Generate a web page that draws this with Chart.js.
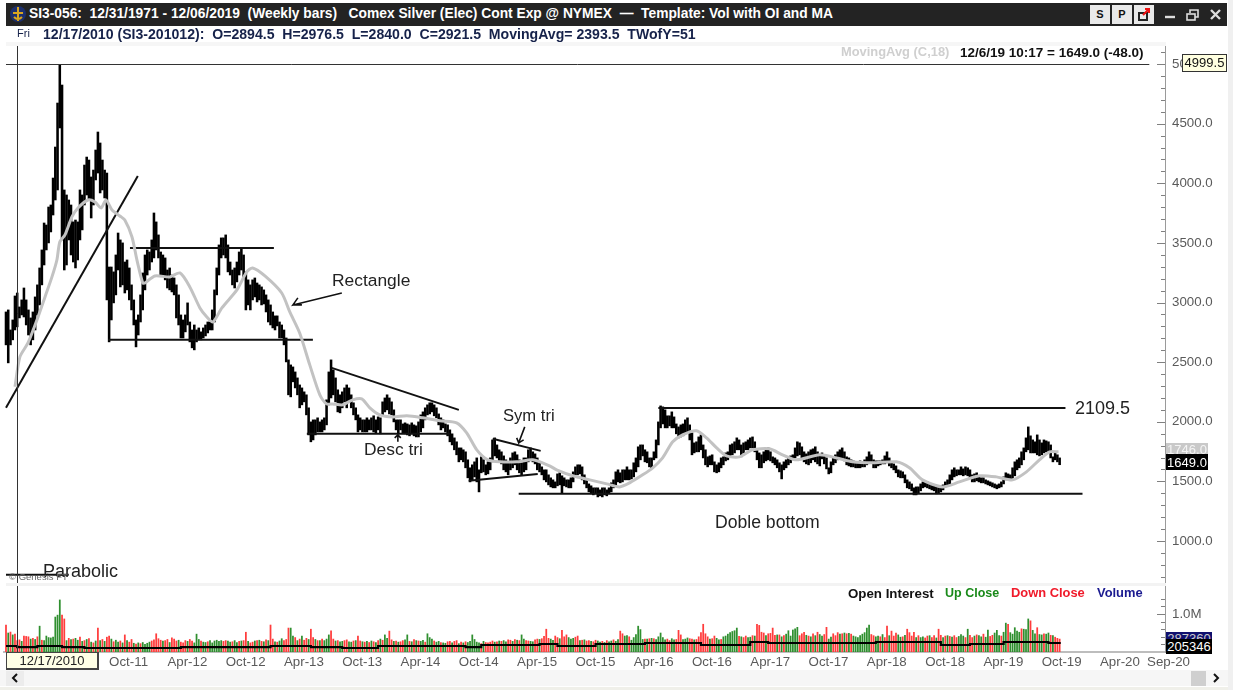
<!DOCTYPE html>
<html><head><meta charset="utf-8">
<script src="https://cdn.jsdelivr.net/npm/chart.js@4/dist/chart.umd.min.js"></script>
<style>
html,body{margin:0;padding:0;background:#fff;overflow:hidden}
#stage{position:relative;width:1233px;height:690px;background:#fff;font-family:"Liberation Sans",Arial,sans-serif;overflow:hidden;filter:blur(0.35px)}
canvas{position:absolute;left:0}
.t{position:absolute;white-space:pre;line-height:1}
.band{position:absolute}
.flag{position:absolute;box-sizing:border-box;text-align:center;font-size:13px;white-space:pre;overflow:hidden}
.btn{position:absolute;top:5px;width:20px;height:19px;background:#e9e9e9;color:#111;font:bold 11px "Liberation Sans";text-align:center;line-height:19px}
</style></head><body>
<div id="stage">
<canvas id="priceChart" width="1233" height="585" style="top:0"></canvas>
<canvas id="volumeChart" width="1233" height="105" style="top:585px"></canvas>

<div class="band" style="left:6px;top:3px;width:1221px;height:23px;background:#232323"></div>
<div class="band" style="left:1228px;top:0;width:5px;height:690px;background:#f0f0f0"></div>
<div class="band" style="left:6px;top:42px;width:1160px;height:4px;background:#f6f6f6"></div>
<div class="band" style="left:6px;top:583px;width:1160px;height:3px;background:#f3f3f3"></div>
<div class="band" style="left:0;top:670px;width:1228px;height:16px;background:#f6f6f6"></div>
<div class="band" style="left:0;top:687px;width:1228px;height:3px;background:#f0f0ea"></div>
<div class="band" style="left:6px;top:671px;width:18px;height:15px;background:#ececec"></div>
<div class="band" style="left:1191px;top:671px;width:15px;height:15px;background:#cfcfcf"></div>
<svg style="position:absolute;left:9px;top:4px" width="18" height="20"><circle cx="9" cy="10" r="8" fill="#1c2f6e"/><path d="M9 3v14M4 9h10M5 13q4 4 8 0" stroke="#d9a520" stroke-width="2" fill="none"/></svg>
<div class="t" style="left:29px;top:7px;color:#fff;font-weight:bold;font-size:13.8px">SI3-056:  12/31/1971 - 12/06/2019  (Weekly bars)   Comex Silver (Elec) Cont Exp @ NYMEX  —  Template: Vol with OI and MA</div>
<div class="t" style="left:17px;top:28px;color:#16224a;font-size:11px">Fri</div>
<div class="t" style="left:43px;top:27px;color:#16224a;font-weight:bold;font-size:14.1px">12/17/2010 (SI3-201012):  O=2894.5  H=2976.5  L=2840.0  C=2921.5  MovingAvg= 2393.5  TWofY=51</div>
<div class="btn" style="left:1090px">S</div><div class="btn" style="left:1112px">P</div><div class="btn" style="left:1134px"></div>
<svg style="position:absolute;left:1134px;top:5px" width="20" height="19"><rect x="5" y="8" width="8" height="7" fill="none" stroke="#222" stroke-width="2"/><path d="M9 10l6-6M11 4h4v4" stroke="#e11" stroke-width="2" fill="none"/></svg>
<svg style="position:absolute;left:1160px;top:5px" width="66" height="19"><path d="M5 12h10" stroke="#ddd" stroke-width="2.4"/><rect x="27" y="9" width="8" height="6" fill="none" stroke="#ddd" stroke-width="1.6"/><path d="M30 8V5h8v7h-3" fill="none" stroke="#ddd" stroke-width="1.6"/><path d="M51 5l9 9M60 5l-9 9" stroke="#ddd" stroke-width="2.4"/></svg>

<div class="t" style="left:841px;top:46px;color:#cfcfcf;font-weight:bold;font-size:12.9px">MovingAvg (C,18)</div>
<div class="t" style="left:960px;top:46px;color:#111;font-weight:bold;font-size:13.5px">12/6/19 10:17 = 1649.0 (-48.0)</div>

<div class="t" style="left:332px;top:272px;color:#222;font-size:17.4px">Rectangle</div>
<div class="t" style="left:364px;top:441px;color:#222;font-size:17.4px">Desc tri</div>
<div class="t" style="left:503px;top:408px;color:#222;font-size:16.6px">Sym tri</div>
<div class="t" style="left:715px;top:514px;color:#222;font-size:17.6px">Doble bottom</div>
<div class="t" style="left:1075px;top:399px;color:#222;font-size:18px">2109.5</div>
<div class="t" style="left:43px;top:562px;color:#222;font-size:18px">Parabolic</div>
<div class="t" style="left:9px;top:572px;color:#666;font-size:9.5px">© Genesis FT</div>

<div class="t" style="left:848px;top:587px;color:#111;font-weight:bold;font-size:13.3px">Open Interest</div>
<div class="t" style="left:945px;top:587px;color:#1a8a1a;font-weight:bold;font-size:12.5px">Up Close</div>
<div class="t" style="left:1011px;top:587px;color:#f01a2a;font-weight:bold;font-size:12.9px">Down Close</div>
<div class="t" style="left:1097px;top:587px;color:#1a1a90;font-weight:bold;font-size:12.9px">Volume</div>

<div class="flag" style="left:1182px;top:54px;width:45px;height:18px;background:#ffffe0;border:1px solid #333;color:#111;line-height:16px">4999.5</div>
<div class="flag" style="left:1166px;top:443px;width:42px;height:12px;background:#c9c9c9;color:#f4f4f4;line-height:13px">1746.0</div>
<div class="flag" style="left:1166px;top:454px;width:42px;height:16px;background:#000;color:#fff;line-height:17px">1649.0</div>
<div class="flag" style="left:1166px;top:632px;width:46px;height:8px;background:#10106e;color:#ccc;line-height:13px">287360</div>
<div class="flag" style="left:1166px;top:639px;width:46px;height:15px;background:#000;color:#fff;line-height:16px">205346</div>
<div class="flag" style="left:6px;top:652px;width:93px;height:18px;background:#ffffe6;border:1px solid #444;border-width:1px 2px 2px 1px;color:#222;line-height:15px">12/17/2010</div>
<svg style="position:absolute;left:10px;top:672px" width="10" height="12"><path d="M7 2L3 6l4 4" fill="none" stroke="#111" stroke-width="2"/></svg>
<svg style="position:absolute;left:1211px;top:672px" width="10" height="12"><path d="M3 2l4 4-4 4" fill="none" stroke="#111" stroke-width="2"/></svg>
</div>
<script>
const weekHigh=[
2921,2938,2770,2854,3055,3080,2963,3022,3122,3022,
2938,2871,2921,3047,3148,3290,3441,3667,3650,3801,
3818,4044,4304,4673,4992,4824,3944,3902,3860,3818,
3676,3692,3676,3944,3902,4153,4220,4195,4053,4111,
4279,4430,4338,4195,4111,4086,3298,3298,3257,3399,
3583,3525,3500,3340,3357,3290,3148,3022,2854,2896,
3064,3248,3399,3441,3424,3525,3751,3676,3567,3424,
3399,3374,3273,3290,3231,3206,3148,3064,2896,2854,
2896,2997,2837,2770,2812,2770,2787,2754,2787,2812,
2837,2837,2938,3106,3290,3483,3542,3542,3567,3483,
3340,3273,3290,3340,3424,3458,3399,3257,3190,3148,
3190,3206,3164,3148,3131,3106,3064,3022,2980,2921,
2888,2888,2837,2812,2770,2703,2519,2477,2460,2418,
2368,2309,2284,2251,2226,2117,1999,2016,2016,2033,
1999,2016,2033,2184,2418,2519,2435,2368,2268,2226,
2251,2284,2309,2284,2226,2159,2117,2058,2033,2016,
2016,2033,2016,2033,2050,2016,2041,2033,2167,2200,
2226,2200,2167,2100,2016,2016,2016,1982,1991,1982,
1974,1991,1974,1966,1999,2058,2083,2117,2142,2159,
2159,2142,2117,2066,2033,2016,1982,1974,1932,1899,
1865,1832,1781,1781,1765,1748,1681,1614,1639,1664,
1697,1597,1706,1681,1639,1664,1697,1848,1865,1806,
1765,1748,1714,1681,1664,1697,1739,1748,1723,1681,
1656,1697,1697,1765,1781,1748,1731,1697,1664,1622,
1597,1597,1555,1530,1513,1496,1563,1572,1547,1530,
1513,1513,1530,1580,1622,1639,1639,1622,1555,1513,
1479,1463,1446,1446,1446,1429,1446,1446,1429,1446,
1488,1513,1580,1597,1572,1597,1597,1622,1597,1597,
1656,1697,1790,1806,1806,1765,1748,1697,1697,1748,
1848,1999,2133,2125,2100,2050,2050,2083,2041,1982,
1957,1974,1982,2016,2033,1974,1907,1823,1832,1873,
1890,1806,1765,1706,1714,1723,1664,1639,1656,1697,
1706,1739,1748,1806,1815,1832,1865,1848,1806,1823,
1832,1848,1865,1873,1832,1765,1739,1723,1748,1765,
1781,1748,1706,1697,1681,1656,1639,1664,1681,1706,
1714,1723,1781,1832,1823,1790,1748,1731,1748,1765,
1773,1790,1748,1723,1739,1714,1697,1614,1664,1697,
1723,1748,1765,1781,1748,1706,1697,1681,1672,1664,
1664,1672,1664,1681,1706,1748,1723,1681,1672,1672,
1672,1681,1714,1748,1697,1656,1647,1630,1597,1589,
1580,1555,1513,1496,1479,1446,1454,1454,1479,1496,
1496,1496,1479,1471,1463,1454,1454,1463,1471,1496,
1513,1555,1597,1614,1597,1597,1622,1605,1622,1614,
1597,1555,1563,1572,1547,1530,1530,1513,1505,1496,
1488,1479,1471,1479,1496,1538,1572,1563,1555,1614,
1664,1681,1697,1748,1781,1865,1957,1882,1848,1832,
1890,1848,1823,1848,1840,1832,1806,1706,1748,1723,1697];
const weekLow=[
2645,2494,2645,2687,2770,2796,2871,2896,2879,2812,
2728,2645,2687,2770,2896,2980,3148,3315,3441,3500,
3592,3734,3860,3944,4464,3525,3273,3315,3525,3399,
3340,3290,3357,3525,3609,3818,3902,3860,3709,3818,
4028,4086,3919,3944,3877,3022,2670,2854,2997,3064,
3273,3131,3148,3080,3106,3022,2938,2812,2628,2728,
2837,2938,3106,3231,3273,3340,3374,3441,3374,3231,
3231,3190,3122,3106,3089,3064,2871,2812,2703,2703,
2754,2812,2670,2620,2603,2670,2687,2687,2703,2720,
2745,2770,2770,2837,3064,3231,3374,3399,3374,3257,
3231,3148,3122,3173,3231,3273,3206,2938,2980,2938,
3022,3047,3005,3022,2980,2988,2921,2837,2812,2787,
2770,2804,2703,2703,2645,2502,2226,2209,2335,2284,
2226,2117,2142,2167,2058,1890,1832,1848,1890,1915,
1915,1915,1932,1974,2142,2200,2226,2167,2083,2075,
2117,2167,2117,2167,2117,2058,2016,1915,1932,1915,
1915,1915,1932,1932,1915,1907,1932,1899,2058,2083,
2100,2066,2058,1999,1932,1907,1932,1907,1899,1890,
1882,1899,1882,1873,1873,1915,1949,2016,2058,2066,
2083,2050,2033,1974,1932,1949,1915,1882,1832,1806,
1765,1723,1664,1681,1664,1614,1530,1496,1513,1538,
1496,1412,1572,1580,1555,1563,1597,1664,1714,1697,
1664,1647,1597,1580,1555,1597,1614,1639,1597,1572,
1555,1580,1597,1664,1681,1664,1647,1597,1580,1555,
1513,1496,1471,1454,1446,1446,1463,1471,1404,1463,
1454,1446,1446,1496,1555,1555,1563,1513,1479,1446,
1412,1396,1387,1396,1370,1379,1370,1387,1379,1396,
1412,1446,1471,1496,1488,1496,1513,1513,1513,1521,
1538,1580,1622,1681,1714,1664,1656,1622,1614,1681,
1697,1806,1949,1982,1949,1949,1966,1949,1949,1899,
1865,1873,1882,1907,1915,1848,1723,1739,1748,1748,
1765,1697,1639,1622,1639,1639,1580,1572,1580,1614,
1639,1672,1681,1714,1723,1739,1765,1765,1706,1739,
1765,1765,1781,1781,1748,1681,1614,1614,1656,1672,
1681,1672,1656,1639,1614,1580,1521,1597,1614,1639,
1656,1681,1697,1714,1723,1697,1664,1647,1639,1656,
1681,1664,1647,1630,1689,1647,1605,1563,1572,1639,
1656,1681,1689,1697,1672,1639,1630,1622,1622,1614,
1614,1614,1622,1622,1639,1664,1656,1614,1614,1630,
1639,1647,1647,1656,1630,1614,1597,1572,1538,1530,
1530,1488,1446,1438,1421,1387,1387,1404,1421,1446,
1454,1446,1438,1429,1421,1396,1404,1412,1429,1454,
1463,1471,1513,1538,1547,1555,1555,1547,1555,1547,
1530,1496,1496,1505,1496,1488,1488,1479,1471,1463,
1454,1446,1438,1446,1454,1479,1513,1513,1513,1521,
1547,1597,1614,1639,1681,1748,1765,1739,1739,1739,
1723,1714,1723,1739,1748,1748,1697,1664,1681,1664,1640];
const maWeeks=[
4,6.2,9.8,14.3,17.4,20.5,22.7,24,26.3,29.4,
32.1,36.6,39.7,42.4,44.6,47.3,50.8,53,56.2,58.4,
61,62,66.4,73.1,77.6,82,86.5,89.6,92.3,96.3,
103,107.4,110,115.5,123,126.6,131,135.5,140,143,
145.8,150.2,154.7,158.7,162.3,166.7,172.5,178.8,186,193.5,
201,205.5,210,214.9,220.2,227.8,235,242.5,245.6,252.8,
260.4,268,273.7,278.2,284,288.5,292.9,297.4,301.8,308,
312.5,317,321.4,327.2,333,340.6,346.4,352.6,362.9,370.5,
377.6,386.5,397.2,403,408.8,417.7,425.3,434.2,441.8,449,
455.2,461,465.5,469.5];
const maValues=[
2293,2544,2661,2879,3047,3215,3357,3508,3567,3718,
3793,3860,3843,3793,3860,3776,3726,3692,3550,3357,
3164,3164,3223,3215,3248,3131,2955,2879,2837,2955,
3106,3257,3290,3223,3080,2921,2745,2477,2226,2150,
2150,2142,2184,2192,2117,2058,2041,2050,2033,2008,
1991,1907,1765,1681,1664,1664,1681,1630,1597,1547,
1513,1479,1454,1488,1555,1614,1697,1832,1890,1924,
1865,1781,1714,1706,1765,1773,1723,1681,1723,1697,
1664,1656,1664,1614,1513,1454,1496,1547,1538,1513,
1580,1681,1748,1748];
/* thousands of contracts; positive = up close, negative = down close */
const signedVolume=[
-710,500,-525,450,-470,-300,-320,280,-420,-410,
-400,340,-360,330,-400,680,-310,300,420,380,
370,390,920,970,1370,-970,-870,300,-360,330,
-340,360,310,-390,280,-300,330,-350,260,-240,
290,-630,300,-330,280,-390,-420,340,-270,310,
260,-290,240,-450,300,-260,-330,230,-210,240,
-220,250,200,230,260,-290,-320,-480,-350,-310,
290,-300,-330,250,-370,-340,-290,310,-260,-240,
-300,280,-330,-290,240,470,330,-290,260,250,
-270,300,240,290,310,280,300,-280,-300,290,
260,-270,300,250,-280,290,-300,-520,280,-240,
-260,290,-300,310,-280,270,-320,300,-710,-340,
270,-260,290,350,-300,-330,-630,630,420,-380,
300,-340,420,-310,-360,330,-600,-380,330,-300,
300,-340,300,340,450,-560,-340,290,-300,270,
280,-300,-320,270,260,-290,300,-420,-290,270,
-260,280,-250,290,-270,250,-300,340,-310,450,
360,-550,-320,280,-290,260,-270,-300,320,450,
-280,270,-330,300,-290,280,310,-260,480,380,
340,-290,260,280,-250,240,230,-270,-280,240,
-280,-300,220,-260,240,-270,250,280,450,330,
260,240,-220,280,-250,-240,-260,-290,260,-270,
290,-280,300,270,-320,-310,280,-330,310,-300,
450,340,-300,-290,280,270,-320,-340,330,-350,
-410,-600,-360,340,310,-420,-380,350,-570,-400,
-450,380,340,360,-390,-420,300,-310,320,-290,
-300,280,-270,-310,290,260,-280,250,-300,270,
290,-320,280,330,-550,-480,420,430,-400,310,
380,460,680,590,330,-340,340,-350,360,-350,
330,400,500,380,320,-340,-300,350,320,-330,
-570,-450,330,340,370,-350,-340,320,-330,-400,
-510,-730,-480,-400,340,-350,-420,360,320,-330,
400,420,470,510,540,560,630,-410,400,-380,
-420,380,390,-430,420,-730,-700,-520,-500,430,
-480,-490,-630,-440,450,-450,400,-430,470,560,
420,580,610,650,-430,-480,-520,440,-420,400,
-480,430,-520,460,420,-460,-650,340,390,-480,
-430,-510,470,-480,500,-480,490,-470,420,400,
380,430,470,510,630,710,-460,-430,400,420,
-400,460,-380,-680,430,-550,-420,-500,450,390,
-400,440,-600,-510,-420,-520,380,-430,380,400,
-370,-420,430,-380,-430,370,-600,-440,380,-420,
430,-410,390,-430,-380,410,460,420,-380,600,
-440,-380,420,-450,430,400,-470,390,580,-410,
-440,500,570,430,-420,520,760,-730,510,470,
640,550,520,-610,600,590,870,-820,570,480,
-640,460,450,-480,470,500,-440,430,-390,-360,-340];
const oiWeeks=[0,5,14,25,35,78,118,126,136,150,166,183,200,205,212,238,246,263,285,310,328,332,340,380,388,400,417,430,445,465,470];
const oiValues=[158,130,158,130,105,130,158,158,130,105,158,158,158,130,184,210,158,210,237,184,184,263,237,237,263,263,184,210,263,237,210];
const priceTicks=[700,800,900,1000,1100,1200,1300,1400,1500,1600,1700,1800,1900,2000,2100,2200,2300,2400,2500,2600,2700,2800,2900,3000,3100,3200,3300,3400,3500,3600,3700,3800,3900,4000,4100,4200,4300,4400,4500,4600,4700,4800,4900,5000,5100];
const priceTickLabelEvery=500;
const volumeTicks=[200,400,600,800,1000,1200,1400];
const volumeTickLabels={1000:"1.0M"};
const dateTickWeeks=[46,72,98,124,150,176,202,228,254,280,306,332,358,384,410,436,462,488,509];
const dateTickLabels=["Oct-11","Apr-12","Oct-12","Apr-13","Oct-13","Apr-14","Oct-14","Apr-15","Oct-15","Apr-16","Oct-16","Apr-17","Oct-17","Apr-18","Oct-18","Apr-19","Oct-19","Apr-20","Sep-20"];
const crosshairWeek=5, crosshairPrice=4999.5;

/* hand-drawn study lines, as [week, price] pairs */
const parabolicLine=[[0,2117],[58.8,4061]];
const rectTopLine=[[55.3,3458],[119.5,3458]];
const rectBottomLine=[[45.5,2687],[136.9,2687]];
const descUpperLine=[[145.3,2452],[202,2100]];
const descLowerLine=[[134.2,1899],[198,1899]];
const symUpperLine=[[217.1,1857],[238.5,1756]];
const symLowerLine=[[206.4,1505],[237.2,1563]];
const doubleTopLine=[[291,2115],[472.6,2115]];
const doubleBottomLine=[[228.7,1396],[480.2,1396]];
const baseStub=[[0,717],[28,717]];
const rectArrow=[[149.8,3080],[128,2980],[130.2,3039],[128,2980],[132,2980]];
const symArrow=[[231.4,1957],[228.7,1823],[227.8,1865],[228.7,1823],[230.9,1848]];
const descArrow=[[174.8,1832],[174.8,1890],[173.4,1865],[174.8,1890],[176.1,1865]];
const studyLines=[parabolicLine,rectTopLine,rectBottomLine,descUpperLine,descLowerLine,symUpperLine,symLowerLine,doubleTopLine,doubleBottomLine,baseStub];
const studyArrows=[rectArrow,symArrow,descArrow];

const xMin=-0.89, xMax=517;
const FONT={family:'"Liberation Sans",Arial,sans-serif',size:13.3};
const toXY=p=>({x:p[0],y:p[1]});
const noYPad=s=>{s.width=68;s.paddingTop=0;s.paddingBottom=0;};

const innerTicks={id:'innerTicks',afterDraw(c,a,o){
  const s=c.scales.y,ctx=c.ctx;ctx.save();ctx.strokeStyle='#808080';ctx.lineWidth=1;
  s.ticks.forEach((t,i)=>{const y=Math.round(s.getPixelForTick(i))+.5;const len=o.isMajor(t.value)?8:4;
    ctx.beginPath();ctx.moveTo(s.left,y);ctx.lineTo(s.left-len,y);ctx.stroke();});
  ctx.restore();}};
const crosshair={id:'crosshair',afterDatasetsDraw(c,a,o){
  const ctx=c.ctx,x=Math.round(c.scales.x.getPixelForValue(crosshairWeek))+.5;
  ctx.save();ctx.strokeStyle='#333';ctx.lineWidth=1;
  ctx.beginPath();ctx.moveTo(x,c.chartArea.top);ctx.lineTo(x,c.chartArea.bottom);ctx.stroke();
  if(o.horizontal){const y=Math.round(c.scales.y.getPixelForValue(crosshairPrice))+.5;
    ctx.beginPath();ctx.moveTo(c.scales.x.getPixelForValue(0),y);ctx.lineTo(c.scales.x.getPixelForValue(510),y);ctx.stroke();}
  ctx.restore();}};

new Chart(document.getElementById('priceChart'),{
  type:'bar',
  data:{datasets:[
    {type:'bar',order:3,data:weekHigh.map((h,i)=>({x:i,y:[weekLow[i],h]})),backgroundColor:'#000',barThickness:1.9,borderWidth:0,minBarLength:3},
    ...studyLines.map(l=>({type:'line',order:2,data:l.map(toXY),borderColor:'#111',borderWidth:2,pointRadius:0})),
    ...studyArrows.map(l=>({type:'line',order:2,data:l.map(toXY),borderColor:'#111',borderWidth:1.6,pointRadius:0})),
    {type:'line',order:1,data:maWeeks.map((w,i)=>({x:w,y:maValues[i]})),borderColor:'#c2c2c2',borderWidth:3,pointRadius:0,tension:.25,label:'MovingAvg (C,18)'}
  ]},
  options:{responsive:false,animation:false,devicePixelRatio:1,
    layout:{padding:{top:44,bottom:2,left:4,right:0}},
    plugins:{legend:{display:false},tooltip:{enabled:false},
      innerTicks:{isMajor:v=>v%priceTickLabelEvery===0},crosshair:{horizontal:true}},
    scales:{
      x:{type:'linear',min:xMin,max:xMax,display:false,offset:false},
      y:{type:'linear',position:'right',min:648,max:5168,
        afterBuildTicks:s=>{s.ticks=priceTicks.map(v=>({value:v}))},
        afterFit:noYPad,
        grid:{display:true,drawOnChartArea:false,drawTicks:false},
        border:{display:true,color:'#9a9a9a',width:1},
        ticks:{autoSkip:false,padding:7,color:'#5a5a5a',font:FONT,
          callback:v=>v%priceTickLabelEvery===0?v.toFixed(1):''}}
    }},
  plugins:[innerTicks,crosshair]
});

new Chart(document.getElementById('volumeChart'),{
  type:'bar',
  data:{datasets:[
    {type:'line',order:1,label:'Open Interest',data:oiWeeks.map((w,i)=>({x:w,y:oiValues[i]})),borderColor:'#000',borderWidth:2.2,pointRadius:0,stepped:true},
    {type:'bar',order:2,label:'Volume',data:signedVolume.map((v,i)=>({x:i,y:Math.abs(v)})),
      backgroundColor:signedVolume.map(v=>v>0?'#2f8f2f':'#ff3c3c'),barThickness:1.1,borderWidth:0}
  ]},
  options:{responsive:false,animation:false,devicePixelRatio:1,
    layout:{padding:{top:1,bottom:20,left:4,right:0}},
    plugins:{legend:{display:false},tooltip:{enabled:false},
      innerTicks:{isMajor:v=>v%1000===0},crosshair:{horizontal:false}},
    scales:{
      x:{type:'linear',min:xMin,max:xMax,offset:false,
        afterBuildTicks:s=>{s.ticks=dateTickWeeks.map(v=>({value:v}))},
        afterFit:s=>{s.height=18;s.paddingLeft=0;s.paddingRight=0;},
        grid:{display:false,drawTicks:false,offset:false},
        border:{display:true,color:'#bdbdbd',width:2},
        ticks:{autoSkip:false,maxRotation:0,minRotation:0,align:'start',padding:2,color:'#5a5a5a',font:FONT,
          callback:v=>dateTickLabels[dateTickWeeks.indexOf(v)]||''}},
      y:{type:'linear',position:'right',min:0,max:1737,
        afterBuildTicks:s=>{s.ticks=volumeTicks.map(v=>({value:v}))},
        afterFit:noYPad,
        grid:{display:true,drawOnChartArea:false,drawTicks:false},
        border:{display:true,color:'#9a9a9a',width:1},
        ticks:{autoSkip:false,padding:7,color:'#5a5a5a',font:FONT,
          callback:v=>volumeTickLabels[v]||''}}
    }},
  plugins:[innerTicks,crosshair]
});
</script>
</body></html>
